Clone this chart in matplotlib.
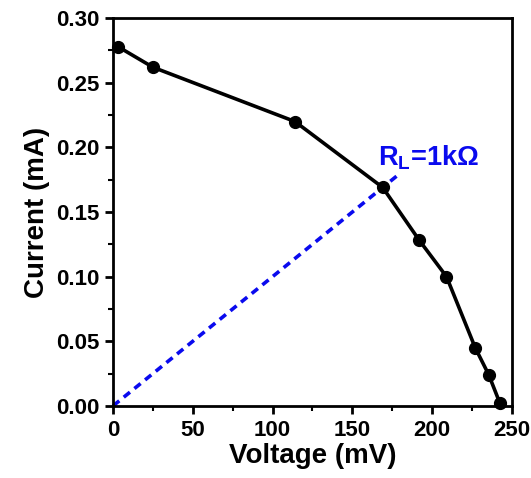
import matplotlib
matplotlib.use("Agg")
import matplotlib.pyplot as plt
from matplotlib.ticker import MultipleLocator

plt.rcParams['font.family'] = ['Liberation Sans', 'DejaVu Sans']
plt.rcParams['font.weight'] = 'bold'
plt.rcParams['mathtext.default'] = 'regular'

voltage = [3, 25, 114, 169, 192, 209, 227, 235.5, 242.5]
current = [0.278, 0.262, 0.220, 0.169, 0.128, 0.100, 0.045, 0.024, 0.002]
load_v = [0, 180]
load_i = [0, 0.180]

fig = plt.figure(figsize=(5.31, 4.78), dpi=100)
ax = fig.add_axes([0.213, 0.151, 0.751, 0.811])

ax.plot(load_v, load_i, color='#0a0aee', linestyle=(0, (2.2, 1.6)), linewidth=2.6, clip_on=False, zorder=2)
ax.plot(voltage, current, color='black', linewidth=2.6, marker='o', markersize=8.5, clip_on=False, zorder=3)

ax.text(166, 0.186, r'R$_{L}$=1kΩ', color='#0a0aee', fontsize=19.5, fontweight='bold',
        ha='left', va='baseline')

ax.set_xlim(0, 250)
ax.set_ylim(0, 0.30)
ax.xaxis.set_major_locator(MultipleLocator(50))
ax.xaxis.set_minor_locator(MultipleLocator(25))
ax.yaxis.set_major_locator(MultipleLocator(0.05))
ax.yaxis.set_minor_locator(MultipleLocator(0.025))
ax.yaxis.set_major_formatter(matplotlib.ticker.FormatStrFormatter('%.2f'))

for s in ax.spines.values():
    s.set_linewidth(2)
ax.tick_params(which='major', direction='out', length=6, width=2, labelsize=16, pad=4)
ax.tick_params(which='minor', direction='out', length=3.5, width=1.5)
for lab in ax.get_xticklabels() + ax.get_yticklabels():
    lab.set_fontweight('bold')

ax.set_xlabel('Voltage (mV)', fontsize=20, fontweight='bold', labelpad=2)
ax.set_ylabel('Current (mA)', fontsize=20, fontweight='bold', labelpad=4)

fig.savefig('out.png', dpi=100)
